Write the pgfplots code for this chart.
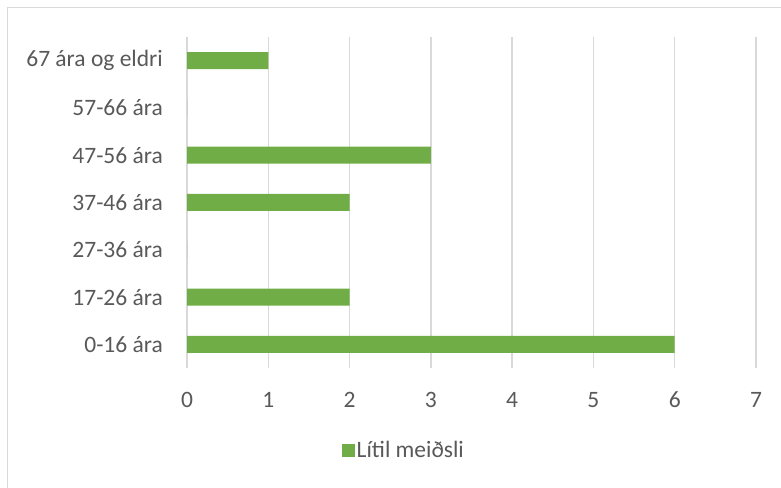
\documentclass[border=0pt]{standalone}
\usepackage{fontspec}
\setmainfont{Carlito}
\usepackage{pgfplots}
\pgfplotsset{compat=1.18}
\definecolor{barg}{HTML}{70AD47}
\definecolor{gridc}{HTML}{D9D9D9}
\definecolor{txt}{HTML}{595959}
\begin{document}
\begin{tikzpicture}[x=1pt,y=1pt]
\path[use as bounding box] (0,0) rectangle (781,487);
\draw[gridc, line width=1.2pt] (7.5,-20) -- (7.5,479.5) -- (800,479.5);
\begin{axis}[
 at={(187pt,119pt)}, anchor=south west,
 scale only axis, width=569pt, height=331pt,
 xmin=0, xmax=7, ymin=-0.5, ymax=6.5,
 xtick={0,...,7}, ytick={0,...,6},
 yticklabels={0-16 ára, 17-26 ára, 27-36 ára, 37-46 ára, 47-56 ára, 57-66 ára, 67 ára og eldri},
 xmajorgrids, major grid style={gridc, line width=1.3pt},
 axis line style={draw=none},
 major tick length=0pt,
 tick label style={font=\fontsize{23.5}{27}\selectfont, text=txt},
 xticklabel style={anchor=center, yshift=-32pt},
 yticklabel style={anchor=east, xshift=-24pt, inner sep=0pt},
 /pgf/number format/assume math mode=true,
 xbar, bar width=17pt,
 legend style={at={(0.381,-0.248)}, anchor=center, draw=none, fill=none,
   font=\fontsize{23.5}{27}\selectfont, text=txt, inner sep=0pt},
 legend image code/.code={\fill[barg] (0pt,-6.5pt) rectangle (13pt,6.5pt);},
]
\addplot[fill=barg, draw=none] coordinates {(6,0) (2,1) (0,2) (2,3) (3,4) (0,5) (1,6)};
\addlegendentry{Lítil meiðsli}
\end{axis}
\end{tikzpicture}
\end{document}
